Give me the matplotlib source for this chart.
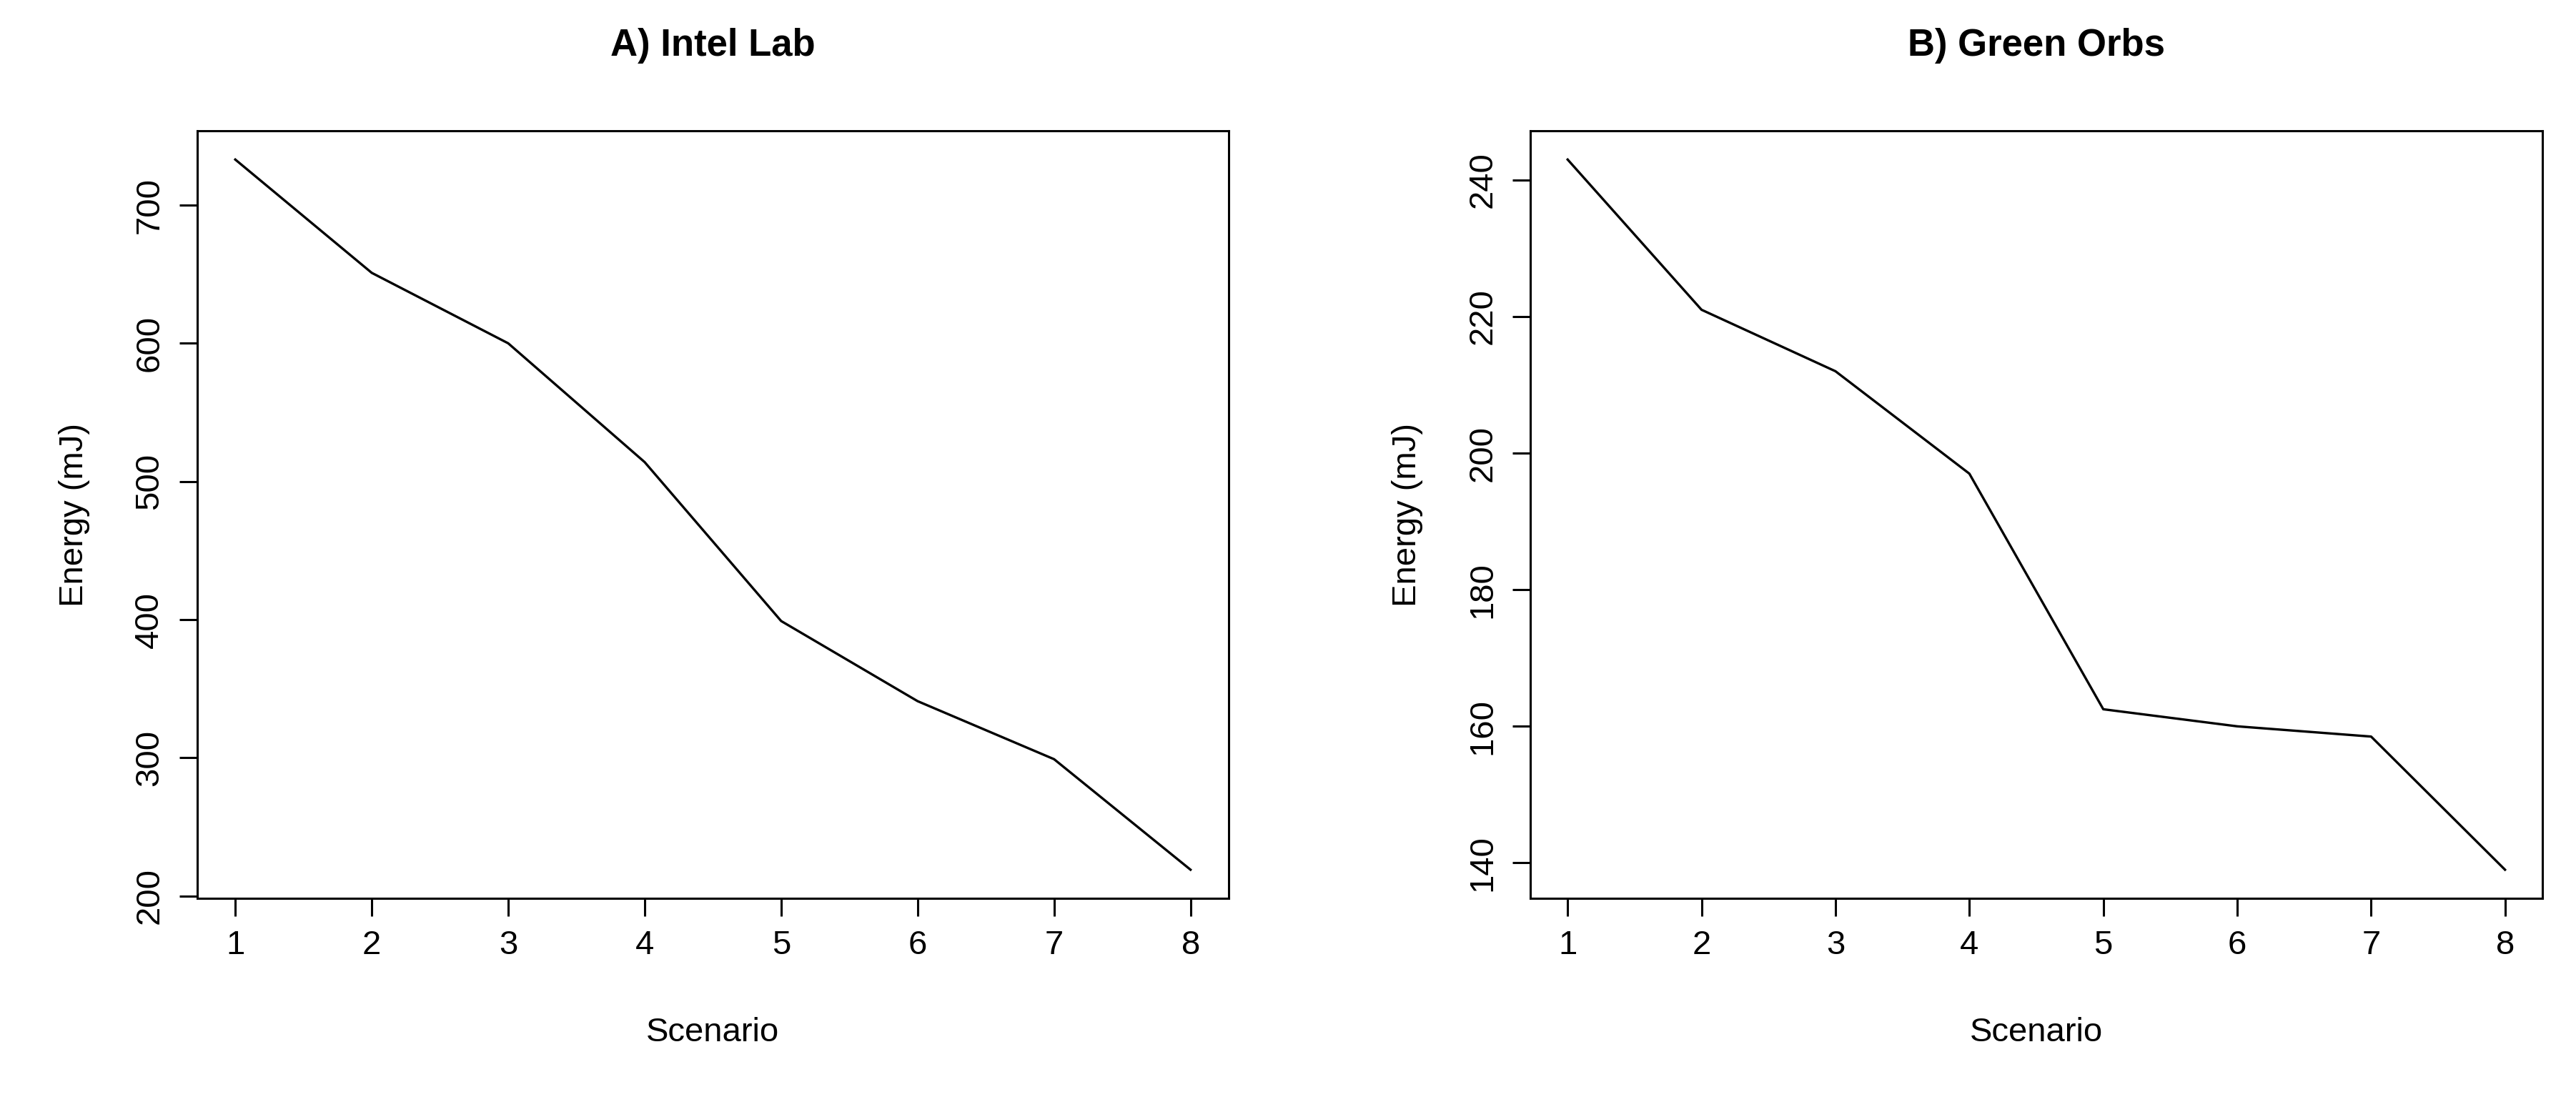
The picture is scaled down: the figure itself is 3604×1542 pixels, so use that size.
import matplotlib
matplotlib.use("Agg")
import matplotlib.pyplot as plt

plt.rcParams["font.family"] = ["Liberation Sans", "DejaVu Sans"]

scenarios = [1, 2, 3, 4, 5, 6, 7, 8]
intel_lab = [733, 651, 600, 514, 399, 341, 299, 219]
green_orbs = [243, 221, 212, 197, 162.5, 160, 158.5, 139]

panels = [
    ("A) Intel Lab", intel_lab, [200, 300, 400, 500, 600, 700],
     [0.0765, 0.185, 0.4005, 0.696]),
    ("B) Green Orbs", green_orbs, [140, 160, 180, 200, 220, 240],
     [0.594, 0.185, 0.393, 0.696]),
]

fig = plt.figure(figsize=(18.02, 7.71), dpi=200)
for title, vals, yt, rect in panels:
    ax = fig.add_axes(rect)
    ax.plot(scenarios, vals, color="black", linewidth=1.2)
    lo, hi = min(vals), max(vals)
    pad = (hi - lo) * 0.04
    ax.set_ylim(lo - pad, hi + pad)
    ax.set_xlim(1 - 7 * 0.04, 8 + 7 * 0.04)
    ax.set_xticks(scenarios)
    ax.set_yticks(yt)
    ax.set_yticklabels([str(v) for v in yt], rotation=90, va="center")
    ax.tick_params(direction="out", length=9, width=1.1, labelsize=17, pad=7)
    for s in ax.spines.values():
        s.set_linewidth(1.1)
    ax.set_xlabel("Scenario", fontsize=17, labelpad=28)
    ax.set_ylabel("Energy (mJ)", fontsize=17, labelpad=22)
    ax.set_title(title, fontsize=19, fontweight="bold", pad=38)

fig.savefig("out.png", dpi=200)
